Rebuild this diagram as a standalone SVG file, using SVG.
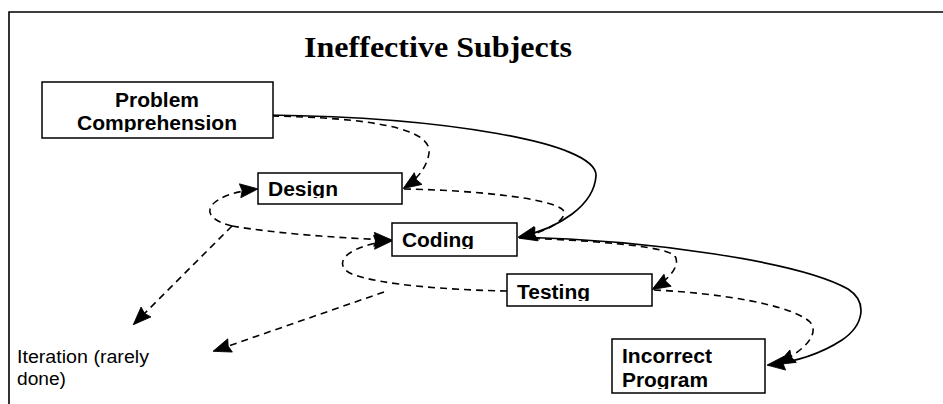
<svg xmlns="http://www.w3.org/2000/svg" width="943" height="404" viewBox="0 0 943 404">
<style>
.box{fill:#fff;stroke:#000;stroke-width:1.5}
.lbl{font-family:"Liberation Sans",Arial,sans-serif;font-weight:bold;font-size:19.5px;fill:#000}
.note{font-family:"Liberation Sans",Arial,sans-serif;font-size:17.5px;fill:#000}
.title{font-family:"Liberation Serif","Times New Roman",serif;font-weight:bold;font-size:29px;fill:#000}
.solid{fill:none;stroke:#000;stroke-width:1.7}
.dash{fill:none;stroke:#000;stroke-width:1.6;stroke-dasharray:7 5}
</style>
<defs>
<marker id="ah" viewBox="0 0 18 14" markerUnits="userSpaceOnUse" markerWidth="18" markerHeight="14" refX="17" refY="7" orient="auto" overflow="visible">
<path d="M0,0 L18,7 L0,14 L2,7 z" fill="#000" stroke="#000" stroke-width="0.8" stroke-linejoin="miter"/>
</marker>
<clipPath id="cpPC"><rect x="42" y="82" width="231" height="50"/></clipPath>
<clipPath id="cpD"><rect x="258" y="173" width="144" height="25"/></clipPath>
<clipPath id="cpC"><rect x="392" y="223" width="125" height="26"/></clipPath>
<clipPath id="cpT"><rect x="507" y="274" width="145" height="27"/></clipPath>
<clipPath id="cpI"><rect x="612" y="339" width="153" height="50"/></clipPath>
</defs>
<rect width="943" height="404" fill="#fff"/>
<path d="M9,404 V12 H943" fill="none" stroke="#000" stroke-width="1.6"/>
<text class="title" x="304" y="57" textLength="268" lengthAdjust="spacingAndGlyphs">Ineffective Subjects</text>

<g id="connectors">
<path class="solid" d="M268,115 C440,117 598,142 596,176 C594,205 560,228 519,237" marker-end="url(#ah)"/>
<path class="dash" d="M272,116 C370,118 432,128 429,153 C427,168 416,180 404,188" marker-end="url(#ah)"/>
<path class="dash" d="M404,189 C470,190 552,198 563,210 C569,220 545,232 520,238" marker-end="url(#ah)"/>
<path class="dash" d="M232,226 C215,222 205,214 212,205 C220,196 238,191 257,189" marker-end="url(#ah)"/>
<path class="dash" d="M232,226 C280,234 340,238 391,240" marker-end="url(#ah)"/>
<path class="dash" d="M232,226 L134,324" marker-end="url(#ah)"/>
<path class="dash" d="M507,291 C450,290 380,285 352,274 C338,268 340,257 355,250 C365,245 378,242 391,241" marker-end="url(#ah)"/>
<path class="dash" d="M384,292 L214,351" marker-end="url(#ah)"/>
<path class="dash" d="M521,238 C580,240 665,245 675,256 C681,266 668,280 653,289" marker-end="url(#ah)"/>
<path class="solid" d="M519,237 C650,240 800,262 848,289 C868,302 864,325 842,340 C822,353 795,362 768,365" marker-end="url(#ah)"/>
<path class="dash" d="M654,290 C720,293 792,305 810,322 C820,334 805,350 778,364" marker-end="url(#ah)"/>
</g>

<g id="problem-comprehension">
<rect class="box" x="42" y="82" width="231" height="56"/>
<g clip-path="url(#cpPC)">
<text class="lbl" x="115" y="107" textLength="84" lengthAdjust="spacingAndGlyphs">Problem</text>
<text class="lbl" x="77" y="130" textLength="160" lengthAdjust="spacingAndGlyphs">Comprehension</text>
</g>
</g>
<g id="design">
<rect class="box" x="258" y="173" width="144" height="31"/>
<text class="lbl" x="268" y="196" textLength="70" lengthAdjust="spacingAndGlyphs" clip-path="url(#cpD)">Design</text>
</g>
<g id="coding">
<rect class="box" x="392" y="223" width="125" height="33"/>
<text class="lbl" x="402" y="247" textLength="72" lengthAdjust="spacingAndGlyphs" clip-path="url(#cpC)">Coding</text>
</g>
<g id="testing">
<rect class="box" x="507" y="274" width="145" height="32"/>
<text class="lbl" x="517" y="299" textLength="73" lengthAdjust="spacingAndGlyphs" clip-path="url(#cpT)">Testing</text>
</g>
<g id="incorrect-program">
<rect class="box" x="612" y="339" width="153" height="54"/>
<g clip-path="url(#cpI)">
<text class="lbl" x="622" y="363" textLength="90" lengthAdjust="spacingAndGlyphs">Incorrect</text>
<text class="lbl" x="622" y="387" textLength="86" lengthAdjust="spacingAndGlyphs">Program</text>
</g>
</g>
<g id="iteration-note">
<text class="note" x="17" y="363" textLength="132" lengthAdjust="spacingAndGlyphs">Iteration (rarely</text>
<text class="note" x="17" y="385" textLength="49" lengthAdjust="spacingAndGlyphs">done)</text>
</g>
</svg>
